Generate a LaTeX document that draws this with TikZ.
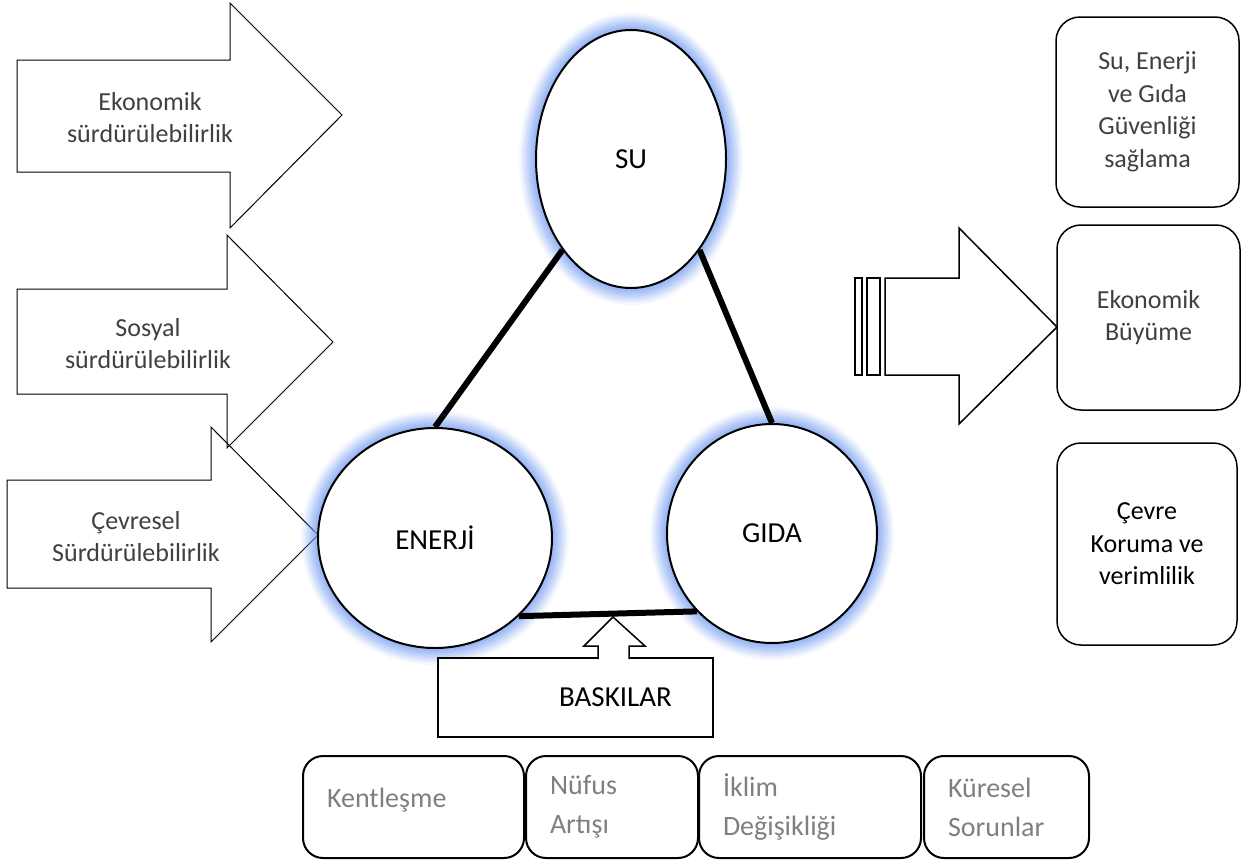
\documentclass[tikz,border=0pt]{standalone}
\usepackage{fontspec}
\setmainfont{Carlito}
\usetikzlibrary{shapes.geometric}
\definecolor{glowblue}{RGB}{115,155,240}
\definecolor{softgray}{RGB}{127,127,127}

\begin{document}
\begin{tikzpicture}[x=1pt,y=-1pt]
 \tikzstyle{glow} = [preaction={draw=glowblue,line width=34pt,opacity=0.07},
                     preaction={draw=glowblue,line width=30pt,opacity=0.09},
                     preaction={draw=glowblue,line width=26pt,opacity=0.11},
                     preaction={draw=glowblue,line width=22pt,opacity=0.13},
                     preaction={draw=glowblue,line width=18pt,opacity=0.15},
                     preaction={draw=glowblue,line width=14pt,opacity=0.17},
                     preaction={draw=glowblue,line width=10pt,opacity=0.19},
                     preaction={draw=glowblue,line width=6pt,opacity=0.2}]
 \tikzstyle{pillar} = [ellipse,draw=black,line width=2pt,fill=white,inner sep=0,glow,font=\fontsize{29}{35}\selectfont]
 \tikzstyle{link} = [line width=6pt]
 \tikzstyle{blockarrow} = [draw=black,line width=1pt]
 \tikzstyle{thinlabel} = [align=center,text=black!75,font=\fontsize{26}{32}\selectfont]
 \tikzstyle{goalbox} = [draw=black,line width=1.5pt,rounded corners=24pt,align=center,font=\fontsize{26}{32.5}\selectfont]
 \tikzstyle{pressbox} = [draw=black,line width=2pt,rounded corners=20pt,minimum height=102pt,anchor=north west,
                         inner xsep=24pt,align=left,text=softgray,font=\fontsize{28}{39}\selectfont]

 \useasboundingbox (0,0) rectangle (1245,860);

% Left arrows (drawn directly)
 \draw[blockarrow] (17,60) -- (230,60) -- (230,3) -- (342,115) -- (230,228) -- (230,172) -- (17,172) -- cycle;
 \draw[blockarrow] (17,289) -- (227,289) -- (227,235) -- (333,342) -- (227,448) -- (227,394) -- (17,394) -- cycle;
 \draw[blockarrow] (7,480) -- (211,480) -- (211,427) -- (318,535) -- (211,642) -- (211,588) -- (7,588) -- cycle;
 \node[thinlabel] (eko) at (150,118) {Ekonomik\\sürdürülebilirlik};
 \node[thinlabel] (sos) at (148,344) {Sosyal\\sürdürülebilirlik};
 \node[thinlabel] (cev) at (136,537) {Çevresel\\Sürdürülebilirlik};

% Nexus
 \node[pillar,minimum width=190pt,minimum height=258pt] (su) at (631,159) {SU};
 \node[pillar,minimum width=234pt,minimum height=220pt] (enerji) at (435,538) {ENERJİ};
 \node[pillar,minimum width=210pt,minimum height=219pt] (gida) at (772,533.5) {GIDA};
 \draw[link] (su.233) -- (enerji.north);
 \draw[link] (su.307) -- (gida.north);
 \draw[link] (enerji.317) -- (gida.226);

% Pressures
 \node[draw=black,line width=1.5pt,fill=white,minimum width=275pt,minimum height=79pt,
       font=\fontsize{29}{35}\selectfont] (baskilar) at (575.5,697.5) {\hspace*{80pt}BASKILAR};
 \draw[line width=1.5pt,fill=white] (598,659) -- (598,646) -- (584,646) -- (613,617) -- (645,646) -- (629,646) -- (629,659);

 \node[pressbox,text width=173pt] (kent) at (302,755) {Kentleşme\\[-20pt]\mbox{}};
 \node[pressbox,text width=124pt] (nufus) at (525,755) {Nüfus\\Artışı};
 \node[pressbox,text width=174pt] (iklim) at (698,755) {İklim\\Değişikliği};
 \node[pressbox,text width=117pt] (kuresel) at (923,755) {Küresel\\Sorunlar};

% Right arrow
 \draw[line width=1.5pt] (855,278) rectangle (862,375);
 \draw[line width=1.5pt] (867,278) rectangle (880,375);
 \draw[line width=1.5pt] (885,278) -- (959,278) -- (959,228) -- (1057,327) -- (959,424) -- (959,375) -- (885,375) -- cycle;

% Goals
 \node[goalbox,text=black!75,minimum width=183pt,minimum height=190pt] (guvenlik) at (1147.5,112) {Su, Enerji\\ve Gıda\\Güvenliği\\sağlama};
 \node[goalbox,text=black!75,minimum width=183pt,minimum height=185pt] (buyume) at (1148.5,317.5) {Ekonomik\\Büyüme};
 \node[goalbox,minimum width=180pt,minimum height=202pt] (koruma) at (1147,544) {Çevre\\Koruma ve\\verimlilik};

\end{tikzpicture}
\end{document}
